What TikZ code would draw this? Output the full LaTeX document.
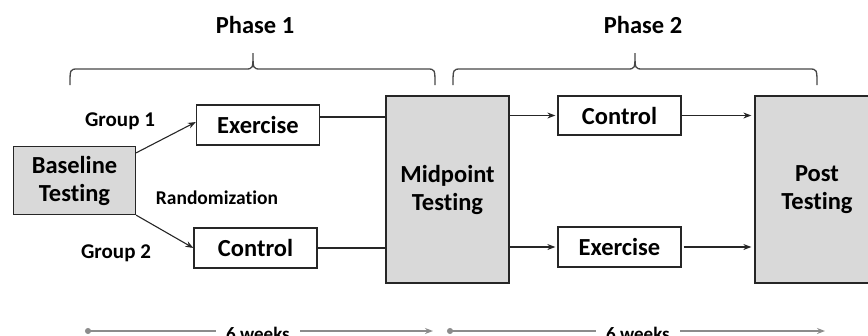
\documentclass[tikz,border=0pt]{standalone}
\usepackage{fontspec}
\setmainfont{Carlito}[Ligatures={NoCommon,NoContextual}]
\usepackage{tikz}
\usetikzlibrary{arrows.meta, positioning}
\definecolor{testfill}{HTML}{D9D9D9}
\definecolor{linec}{HTML}{262626}
\definecolor{timec}{HTML}{8C8C8C}

\begin{document}
\begin{tikzpicture}[x=1pt, y=-1pt, font=\bfseries,
      test/.style={draw=linec, line width=1.3pt, fill=testfill, align=center, inner sep=0pt, font=\bfseries\fontsize{24.5}{28}\selectfont},
      arm/.style={draw=linec, line width=1.3pt, fill=white, minimum width=123pt, minimum height=40pt, inner sep=0pt, font=\bfseries\fontsize{24.5}{28}\selectfont},
      arr/.style={-{Stealth[length=8pt, width=6pt]}, line width=1.1pt, linec},
      tie/.style={line width=1.1pt, linec},
      grp/.style={font=\bfseries\fontsize{21}{24}\selectfont},
      phase/.style={font=\bfseries\fontsize{24.5}{28}\selectfont},
      brc/.style={line width=1.3pt, linec!85},
      span/.style={line width=1.3pt, timec},
      wk/.style={font=\bfseries\fontsize{19}{22}\selectfont, inner sep=10pt}]
    \useasboundingbox (0,0) rectangle (868,335);
    \clip (0,0) rectangle (868,335);
    % phase braces
    \node[phase] (ph1) at (255,25) {Phase 1};
    \node[phase] (ph2) at (643,25) {Phase 2};
    \draw[brc] (70,85) .. controls (70,69) .. (78,69) -- (245,69) .. controls (253,69) .. (253,53)
               .. controls (253,69) .. (261,69) -- (427,69) .. controls (435,69) .. (435,85);
    \draw[brc] (453,85) .. controls (453,69) .. (461,69) -- (627,69) .. controls (635,69) .. (635,53)
               .. controls (635,69) .. (643,69) -- (809,69) .. controls (817,69) .. (817,85);
    % boxes
    \node[test, minimum width=122pt, minimum height=68pt] (base) at (74.5,180.5) {Baseline\\Testing};
    \node[arm] (ex1) at (258,125) {Exercise};
    \node[arm] (ctl1) at (255.5,248) {Control};
    \node[test, minimum width=123pt, minimum height=187pt] (mid) at (447.5,189.5) {Midpoint\\Testing};
    \node[arm, minimum height=39pt] (ctl2) at (619.5,115.5) {Control};
    \node[arm] (ex2) at (619.5,247) {Exercise};
    \node[test, minimum width=124pt, minimum height=187pt] (post) at (817,189.5) {Post\\Testing};
    % labels
    \node[grp] (g1) at (120,121) {Group 1};
    \node[grp] (g2) at (116,253) {Group 2};
    \node[font=\bfseries\fontsize{19.5}{22}\selectfont] (rnd) at (217,198) {Randomization};
    % connectors
    \draw[arr] ([yshift=-7pt]base.north east) -- ([yshift=3pt]ex1.west);
    \draw[arr] (base.south east) -- (ctl1.west);
    \coordinate (e1) at ([yshift=8pt]ex1.east);
    \draw[tie] (e1) -- (e1 -| mid.west);
    \draw[tie] (ctl1.east) -- (ctl1.east -| mid.west);
    \draw[arr] (ctl2.west -| mid.east) -- ([xshift=-2pt]ctl2.west);
    \draw[arr] (ctl2.east) -- ([xshift=-3pt]ctl2.east -| post.west);
    \draw[arr] (ex2.west -| mid.east) -- ([xshift=-2pt]ex2.west);
    \draw[arr] ([xshift=2pt]ex2.east) -- ([xshift=-3pt]ex2.east -| post.west);
    % six-week spans
    \coordinate (s1) at (85,331);
    \coordinate (t1) at (433,331);
    \coordinate (s2) at (447,331);
    \coordinate (t2) at (825,331);
    \node[wk, anchor=base] (w1) at (258,340) {6 weeks};
    \node[wk, anchor=base] (w2) at (638,340) {6 weeks};
    \draw[span, {Circle[length=6pt]}-] (s1) -- (s1 -| w1.west);
    \draw[span, -{Stealth[length=8pt, width=6pt]}] (t1 -| w1.east) -- (t1);
    \draw[span, {Circle[length=6pt]}-] (s2) -- (s2 -| w2.west);
    \draw[span, -{Stealth[length=8pt, width=6pt]}] (t2 -| w2.east) -- (t2);
\end{tikzpicture}
\end{document}
